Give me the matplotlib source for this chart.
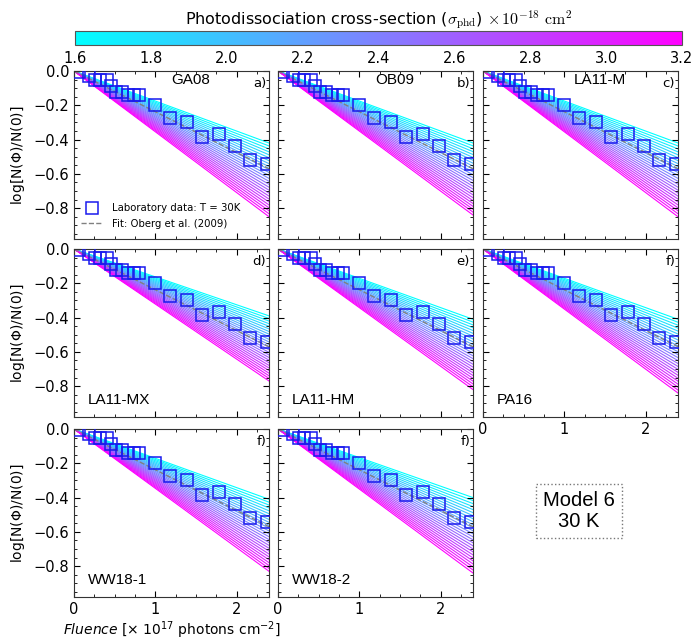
import matplotlib
matplotlib.use('Agg')
import matplotlib.pyplot as plt
import numpy as np
from matplotlib.lines import Line2D
from matplotlib.ticker import MultipleLocator, AutoMinorLocator
from matplotlib.cm import ScalarMappable
from matplotlib.colors import Normalize

# cross-section grid (x 1e-18 cm^2) used for the model curves
sigma_min, sigma_max = 1.6, 3.2
sigma_values = np.arange(1.6, 3.2001, 0.064)

# laboratory data (fluence in 1e17 photons cm^-2, log N/N0)
lab_fluence = [0.06, 0.19, 0.26, 0.32, 0.40, 0.46, 0.52, 0.59, 0.67, 0.74, 0.80,
               1.00, 1.18, 1.39, 1.58, 1.78, 1.98, 2.17, 2.37]
lab_logN = [-0.003, -0.03, -0.055, -0.055, -0.05, -0.085, -0.12, -0.12, -0.14, -0.14, -0.14,
            -0.20, -0.275, -0.295, -0.385, -0.37, -0.44, -0.52, -0.545]

# Oberg et al. (2009) fit
fit_fluence = [0.0, 2.4]
fit_logN = [0.0, -0.57]

# models: name, letter, value at F=2.4 for sigma_min and sigma_max
models = ["GA08", "OB09", "LA11-M", "LA11-MX", "LA11-HM", "PA16", "WW18-1", "WW18-2"]
letters = ["a)", "b)", "c)", "d)", "e)", "f)", "f)", "f)"]
end_low = [-0.42, -0.42, -0.42, -0.39, -0.41, -0.41, -0.41, -0.40]
end_high = [-0.85, -0.84, -0.85, -0.77, -0.82, -0.84, -0.83, -0.84]
name_on_top = [True, True, True, False, False, False, False, False]

F_end = 2.4

fig = plt.figure(figsize=(6.94, 6.41), dpi=100)

col_left = [74 / 694, 278 / 694, 483 / 694]
row_bottom = [1 - 239 / 641, 1 - 417 / 641, 1 - 597 / 641]
w, h = 195 / 694, 168 / 641
slots = [(0, 0), (0, 1), (0, 2), (1, 0), (1, 1), (1, 2), (2, 0), (2, 1)]

cmap = plt.get_cmap('cool')
norm = Normalize(sigma_min, sigma_max)

for i, (r, c) in enumerate(slots):
    ax = fig.add_axes([col_left[c], row_bottom[r], w, h])

    for s in sigma_values:
        frac = (s - sigma_min) / (sigma_max - sigma_min)
        y_end = end_low[i] + frac * (end_high[i] - end_low[i])
        ax.plot([0, F_end], [0, y_end], color=cmap(norm(s)), lw=0.8, zorder=1)

    ax.plot(fit_fluence, fit_logN, ls='--', color='gray', lw=1.0, zorder=2)
    ax.plot(lab_fluence, lab_logN, ls='none', marker='s', ms=8, mfc='none',
            mec='#1a1aee', mew=1.1, zorder=3)

    ax.set_xlim(0, 2.4)
    ax.set_ylim(-0.98, 0.0)
    ax.xaxis.set_major_locator(MultipleLocator(1))
    ax.xaxis.set_minor_locator(MultipleLocator(0.25))
    ax.set_yticks([0.0, -0.2, -0.4, -0.6, -0.8])
    ax.yaxis.set_minor_locator(AutoMinorLocator(4))
    ax.tick_params(which='both', direction='in', top=True, right=True, labelsize=10.5)
    ax.tick_params(which='major', length=4)
    ax.tick_params(which='minor', length=2)
    for sp in ax.spines.values():
        sp.set_color('#333333')

    if c != 0:
        ax.set_yticklabels([])
    else:
        ax.set_ylabel(r'log[N($\Phi$)/N(0)]', fontsize=10)
        ax.yaxis.set_label_coords(-0.24, 0.5)
    if not (r == 2 or (r == 1 and c == 2)):
        ax.set_xticklabels([])

    ax.text(0.985, 0.965, letters[i], transform=ax.transAxes, ha='right', va='top', fontsize=9.5)
    if name_on_top[i]:
        ax.text(0.6, 0.945, models[i], transform=ax.transAxes, ha='center', va='center',
                fontsize=11, family='Liberation Sans')
    else:
        ax.text(0.07, 0.1, models[i], transform=ax.transAxes, ha='left', va='center',
                fontsize=11, family='Liberation Sans')

    if i == 0:
        handles = [Line2D([], [], ls='none', marker='s', ms=8, mfc='none', mec='#1a1aee', mew=1.1),
                   Line2D([], [], ls='--', color='gray', lw=1.0)]
        ax.legend(handles, ['Laboratory data: T = 30K', 'Fit: Oberg et al. (2009)'],
                  loc='lower left', bbox_to_anchor=(0.0, 0.02), frameon=False,
                  fontsize=7.3, handlelength=2.2, borderaxespad=0.3)

    if r == 2 and c == 0:
        ax.set_xlabel(r'$\it{Fluence}$ [$\times$ 10$^{17}$ photons cm$^{-2}$]', fontsize=10, labelpad=2)

# colorbar
cax = fig.add_axes([75 / 694, 1 - 45 / 641, 607 / 694, 14 / 641])
sm = ScalarMappable(norm=norm, cmap=cmap)
cb = fig.colorbar(sm, cax=cax, orientation='horizontal', ticks=np.arange(1.6, 3.21, 0.2))
cb.ax.tick_params(labelsize=10.5, length=0, pad=4)
cb.ax.set_xticklabels([f"{t:.1f}" for t in np.arange(1.6, 3.21, 0.2)])
cb.outline.set_edgecolor('#555555')
cb.ax.xaxis.set_label_position('top')
cb.ax.set_xlabel(r'Photodissociation cross-section ($\sigma_{\rm phd}$) $\times\, 10^{-18}\ \mathrm{cm}^2$',
                 fontsize=11.5, labelpad=4, math_fontfamily='cm')

fig.text(579 / 694, 1 - 511 / 641, "Model 6\n30 K", ha='center', va='center', fontsize=14.5,
         family='Liberation Sans', linespacing=1.1,
         bbox=dict(boxstyle='square,pad=0.35', fc='white', ec='#777777', ls=':', lw=1))

fig.savefig('out.png', dpi=100)
